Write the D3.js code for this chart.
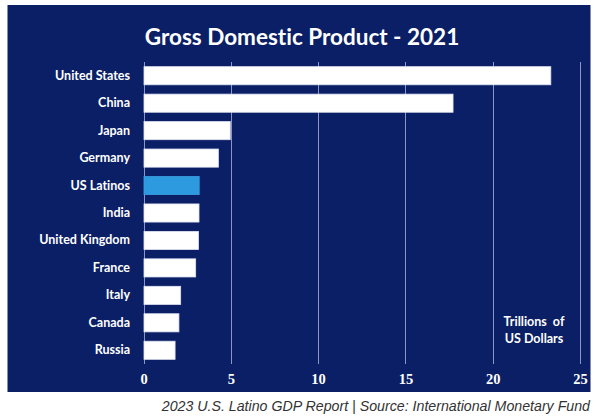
<!DOCTYPE html>
<html>
<head>
<meta charset="utf-8">
<script src="https://cdn.jsdelivr.net/npm/d3@7"></script>
<style>
  html, body { margin: 0; padding: 0; background: #ffffff; }
  svg { display: block; }
  text { font-variant-ligatures: none; }
</style>
</head>
<body>
<svg id="chart" width="600" height="416"></svg>
<script>
const categories = ["United States", "China", "Japan", "Germany", "US Latinos", "India", "United Kingdom", "France", "Italy", "Canada", "Russia"];
const gdpTrillions = [23.3, 17.7, 4.94, 4.26, 3.16, 3.15, 3.12, 2.96, 2.1, 2.0, 1.78];
const highlighted = ["US Latinos"];
const xTicks = [0, 5, 10, 15, 20, 25];
const titleText = "Gross Domestic Product - 2021";
const unitLines = ["Trillions  of", "US Dollars"];
const footerText = "2023 U.S. Latino GDP Report | Source: International Monetary Fund";

const svg = d3.select("#chart");
const navy = "#0b1f66";

// panel
svg.append("rect").attr("x", 7.5).attr("y", 5).attr("width", 583).attr("height", 387).attr("fill", navy);

const x = d3.scaleLinear().domain([0, 25]).range([143.5, 580]);
const y = d3.scaleBand().domain(categories).range([62, 364]).paddingInner(0.34).paddingOuter(0.17);

// gridlines
svg.append("g").selectAll("line").data(xTicks).join("line")
  .attr("x1", d => Math.round(x(d)) + 0.5).attr("x2", d => Math.round(x(d)) + 0.5)
  .attr("y1", 62).attr("y2", 364)
  .attr("stroke", "#8d95c4").attr("stroke-width", 1);

// bars
svg.append("g").selectAll("rect").data(categories).join("rect")
  .attr("x", x(0) + 0.5)
  .attr("y", d => y(d))
  .attr("width", (d, i) => x(gdpTrillions[i]) - x(0))
  .attr("height", y.bandwidth())
  .attr("fill", d => highlighted.includes(d) ? "#2d9ae0" : "#ffffff")
  .attr("stroke", d => highlighted.includes(d) ? "#3aa0e0" : "#dfe3f2")
  .attr("stroke-width", 0.8);

// category axis labels
const yAxis = d3.axisLeft(y).tickSize(0).tickPadding(0);
const gy = svg.append("g").attr("transform", "translate(130,0)").call(yAxis);
gy.select(".domain").remove();
gy.selectAll("text")
  .attr("fill", "#ffffff")
  .style("font-family", "Lato, 'Open Sans', sans-serif")
  .style("font-weight", "bold")
  .style("font-size", "12.5px");

// x axis tick labels
const xAxis = d3.axisBottom(x).tickValues(xTicks).tickSize(0).tickPadding(0);
const gx = svg.append("g").attr("transform", "translate(0,374)").call(xAxis);
gx.select(".domain").remove();
gx.selectAll("text")
  .attr("fill", "#ffffff")
  .style("font-family", "'Liberation Serif', 'DejaVu Serif', serif")
  .style("font-weight", "bold")
  .style("font-size", "14.5px");

// title
svg.append("text").attr("x", 302).attr("y", 45).attr("text-anchor", "middle")
  .attr("fill", "#ffffff")
  .style("font-family", "Lato, 'Open Sans', sans-serif")
  .style("font-weight", "bold").style("font-size", "22.5px")
  .text(titleText);

// unit label
svg.append("g").selectAll("text").data(unitLines).join("text")
  .attr("x", 534).attr("y", (d, i) => 326 + i * 17)
  .attr("text-anchor", "middle").attr("fill", "#ffffff")
  .style("font-family", "Lato, 'Open Sans', sans-serif")
  .style("font-weight", "bold").style("font-size", "12.5px")
  .style("white-space", "pre")
  .attr("xml:space", "preserve")
  .text(d => d);

// footer
svg.append("text").attr("x", 590).attr("y", 411).attr("text-anchor", "end")
  .attr("fill", "#333333")
  .style("font-family", "'Liberation Sans', Arial, sans-serif")
  .style("font-style", "italic").style("font-size", "14.2px")
  .text(footerText);
</script>
</body>
</html>
